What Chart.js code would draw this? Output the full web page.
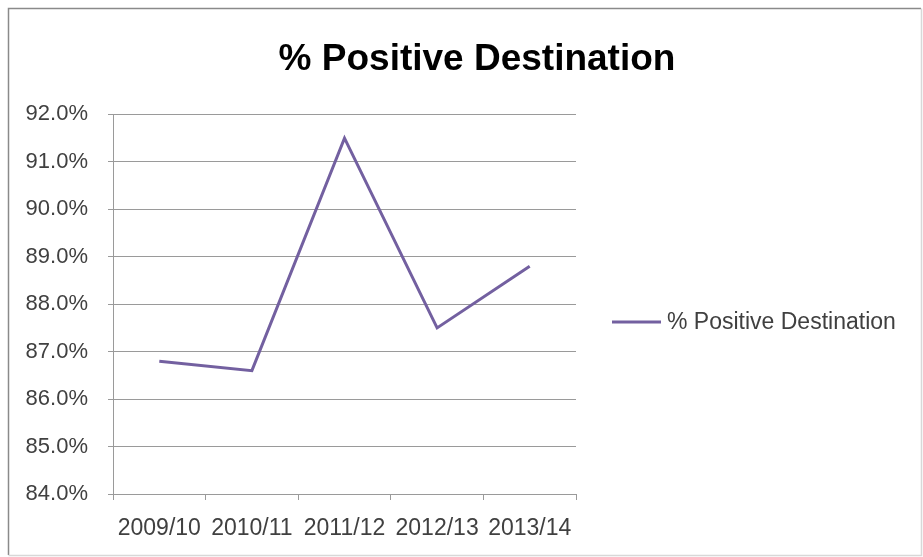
<!DOCTYPE html>
<html>
<head>
<meta charset="utf-8">
<script src="https://cdn.jsdelivr.net/npm/chart.js@4"></script>
<style>
  html, body { margin: 0; padding: 0; background: #fff; }
  #wrap { width: 923px; height: 557px; position: relative; }
</style>
</head>
<body>
<div id="wrap"><canvas id="c" width="923" height="557"></canvas></div>
<script>
const categories = ['2009/10', '2010/11', '2011/12', '2012/13', '2013/14'];
const seriesName = '% Positive Destination';
const seriesValues = [86.8, 86.6, 91.5, 87.5, 88.8];
const yMin = 84;
const yMax = 92;
const yStep = 1;
const chartTitle = '% Positive Destination';

const lineColor = '#7360a0';
const gridColor = '#9a9a9a';
const textColor = '#404040';
const fontFamily = '"Liberation Sans", Arial, sans-serif';

const frame = {
  id: 'frame',
  afterLayout(chart) {
    if (chart.titleBlock) {
      chart.titleBlock.left = 31;
      chart.titleBlock.right = chart.width;
    }
  },
  beforeDraw(chart) {
    const ctx = chart.ctx;
    ctx.save();
    ctx.fillStyle = '#fff';
    ctx.fillRect(0, 0, chart.width, chart.height);
    ctx.lineWidth = 1.5;
    ctx.strokeStyle = '#8a8a8a';
    ctx.beginPath();
    ctx.moveTo(8.5, 555);
    ctx.lineTo(8.5, 8.5);
    ctx.lineTo(921, 8.5);
    ctx.stroke();
    ctx.strokeStyle = '#d8d8d8';
    ctx.beginPath();
    ctx.moveTo(921.5, 8.5);
    ctx.lineTo(921.5, 555.5);
    ctx.lineTo(8.5, 555.5);
    ctx.stroke();
    ctx.restore();
  }
};

const sideLegend = {
  id: 'sideLegend',
  afterDraw(chart) {
    const ctx = chart.ctx;
    const ds = chart.data.datasets[0];
    const y = 322;
    ctx.save();
    ctx.strokeStyle = ds.borderColor;
    ctx.lineWidth = 3;
    ctx.beginPath();
    ctx.moveTo(612, y);
    ctx.lineTo(661, y);
    ctx.stroke();
    ctx.fillStyle = textColor;
    ctx.font = '23px ' + fontFamily;
    ctx.textBaseline = 'middle';
    ctx.textAlign = 'left';
    ctx.fillText(ds.label, 667, y + 1);
    ctx.restore();
  }
};

new Chart(document.getElementById('c'), {
  type: 'line',
  data: {
    labels: categories,
    datasets: [{
      label: seriesName,
      data: seriesValues,
      borderColor: lineColor,
      backgroundColor: lineColor,
      borderWidth: 3,
      pointRadius: 0,
      tension: 0,
      fill: false,
      yAxisID: 'y'
    }]
  },
  options: {
    responsive: false,
    animation: false,
    devicePixelRatio: 1,
    layout: { padding: { left: 0, right: 0, top: 0, bottom: 0 } },
    plugins: {
      legend: { display: false },
      tooltip: { enabled: false },
      title: {
        display: true,
        text: chartTitle,
        color: '#000',
        font: { family: fontFamily, size: 37, weight: 'bold', lineHeight: 1.2 },
        padding: { top: 38, bottom: 32 },
        align: 'center'
      }
    },
    scales: {
      x: {
        offset: true,
        grid: {
          offset: true,
          drawOnChartArea: false,
          drawTicks: true,
          tickLength: 6,
          color: gridColor
        },
        border: { display: true, color: gridColor, width: 1 },
        ticks: {
          color: textColor,
          font: { family: fontFamily, size: 23 },
          padding: 15,
          maxRotation: 0,
          autoSkip: false
        },
        afterFit(scale) { scale.height = 63; }
      },
      y: {
        min: yMin,
        max: yMax,
        grid: {
          color: gridColor,
          lineWidth: 1,
          drawTicks: true,
          tickLength: 5
        },
        border: { display: true, color: gridColor, width: 1 },
        ticks: {
          stepSize: yStep,
          color: textColor,
          font: { family: fontFamily, size: 22 },
          padding: 20,
          callback: v => Number(v).toFixed(1) + '%'
        },
        afterFit(scale) { scale.width = 113; }
      },
      ySpace: {
        position: 'right',
        display: true,
        min: yMin,
        max: yMax,
        grid: { display: false, drawOnChartArea: false, drawTicks: false },
        border: { display: false },
        ticks: { display: false },
        afterFit(scale) { scale.width = 347; }
      }
    }
  },
  plugins: [frame, sideLegend]
});
</script>
</body>
</html>
